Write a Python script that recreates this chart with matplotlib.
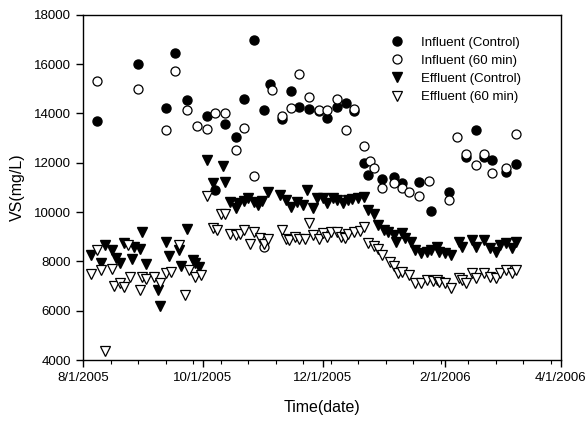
import datetime as dt
import matplotlib
matplotlib.use("Agg")
import matplotlib.pyplot as plt
import matplotlib.dates as mdates
from matplotlib.ticker import FixedLocator

plt.rcParams['font.family'] = ['Liberation Sans', 'DejaVu Sans']

start = dt.date(2005, 8, 1)

# sampling day (days after 8/1/2005) and VS (mg/L)
inf_ctrl_day = [7, 28, 42, 47, 53, 63, 67, 72, 78, 82, 87, 92, 95, 101, 106, 110, 115, 120,
                124, 129, 134, 138, 143, 145, 152, 158, 162, 171, 177, 186, 195, 200, 204,
                208, 215, 220]
inf_ctrl_vs = [13700, 16020, 14210, 16440, 14550, 13900, 10900, 13560, 13040, 14580, 16990,
               14120, 15190, 13770, 14900, 14250, 14180, 14100, 13810, 14250, 14420, 14080,
               11990, 11500, 11330, 11440, 11170, 11210, 10060, 10830, 12250, 13330, 12250,
               12110, 11640, 11950]

inf_60_day = [7, 28, 42, 47, 53, 58, 63, 67, 72, 78, 82, 87, 92, 96, 101, 106, 110, 115, 120,
              124, 129, 134, 138, 143, 146, 148, 152, 158, 162, 166, 171, 176, 186, 190, 195,
              200, 204, 208, 215, 220]
inf_60_vs = [15330, 14970, 13330, 15730, 14120, 13470, 13370, 14010, 14010, 12520, 13420,
             11470, 8600, 14930, 13910, 14210, 15590, 14680, 14140, 14120, 14590, 13330, 14170,
             12660, 12050, 11780, 10970, 11170, 10970, 10830, 10670, 11240, 10490, 13060,
             12350, 11910, 12350, 11570, 11780, 13160]

eff_ctrl_day = [4, 9, 11, 15, 17, 19, 21, 25, 26, 29, 30, 32, 38, 39, 42, 44, 49, 50, 53, 56,
                57, 59, 63, 66, 71, 72, 75, 78, 79, 82, 84, 87, 89, 91, 94, 100, 103, 106, 109,
                112, 114, 117, 119, 122, 124, 127, 129, 132, 135, 137, 140, 143, 145, 148, 150,
                153, 155, 158, 159, 162, 164, 167, 169, 172, 175, 177, 180, 181, 184, 187, 191,
                193, 198, 200, 204, 207, 210, 212, 215, 218, 220]
eff_ctrl_vs = [8260, 7920, 8670, 8460, 8130, 7920, 8760, 8080, 8600, 8490, 9210, 7890, 6850,
               6170, 8800, 8220, 8460, 7810, 9300, 8060, 7950, 7760, 12090, 11170, 11870, 11200,
               10420, 10150, 10360, 10460, 10560, 10420, 10290, 10460, 10830, 10690, 10490,
               10220, 10420, 10290, 10900, 10150, 10560, 10560, 10360, 10560, 10490, 10380,
               10490, 10520, 10560, 10620, 10090, 9920, 9480, 9270, 9210, 9070, 8800, 9140, 8940,
               8800, 8460, 8350, 8390, 8480, 8600, 8390, 8350, 8260, 8800, 8600, 8870, 8600,
               8870, 8530, 8390, 8670, 8730, 8530, 8800]

eff_60_day = [4, 7, 9, 11, 15, 16, 19, 21, 23, 24, 29, 30, 32, 36, 39, 42, 45, 49, 52, 54, 57,
              60, 63, 66, 68, 70, 72, 75, 78, 80, 82, 85, 87, 90, 92, 94, 101, 103, 105, 108,
              110, 113, 115, 117, 120, 122, 124, 126, 129, 131, 133, 135, 138, 141, 143, 145,
              148, 150, 152, 156, 158, 160, 162, 166, 169, 172, 175, 178, 180, 181, 184, 187,
              191, 193, 195, 198, 200, 204, 207, 210, 212, 215, 218, 220]
eff_60_vs = [7500, 8460, 7650, 4380, 7700, 7000, 7140, 6970, 8670, 7350, 6840, 7380, 7270,
             7380, 7140, 7520, 7580, 8670, 6640, 7650, 7380, 7450, 10650, 9340, 9270, 9920,
             9920, 9110, 9070, 9110, 9270, 8710, 9210, 8940, 8710, 8900, 9270, 8900, 8870,
             9000, 8900, 8900, 9550, 9070, 8900, 9170, 9000, 9210, 9210, 9000, 8940, 9110,
             9210, 9250, 9410, 8730, 8630, 8490, 8260, 7990, 7800, 7520, 7580, 7450, 7110,
             7110, 7240, 7200, 7240, 7170, 7110, 6910, 7310, 7240, 7110, 7520, 7310, 7520,
             7380, 7310, 7520, 7650, 7520, 7650]

major_dates = [dt.date(2005, 8, 1), dt.date(2005, 10, 1), dt.date(2005, 12, 1),
               dt.date(2006, 2, 1), dt.date(2006, 4, 1)]
y_ticks = [4000, 6000, 8000, 10000, 12000, 14000, 16000, 18000]


def to_dates(days):
    return [start + dt.timedelta(days=d) for d in days]


fig = plt.figure(figsize=(5.86, 4.29), dpi=100)
ax = fig.add_axes([0.1416, 0.1608, 0.8154, 0.8049])

ax.plot(to_dates(inf_ctrl_day), inf_ctrl_vs, 'o', color='black', ms=6.5,
        label='Influent (Control)')
ax.plot(to_dates(inf_60_day), inf_60_vs, 'o', mfc='white', mec='black', mew=0.9, ms=6.5,
        label='Influent (60 min)')
ax.plot(to_dates(eff_ctrl_day), eff_ctrl_vs, 'v', color='black', ms=7,
        label='Effluent (Control)')
ax.plot(to_dates(eff_60_day), eff_60_vs, 'v', mfc='white', mec='black', mew=0.9, ms=7,
        label='Effluent (60 min)')

ax.set_xlim(major_dates[0], major_dates[-1])
ax.set_ylim(4000, 18000)
ax.set_yticks(y_ticks)
ax.set_xticks(major_dates)
ax.set_xticklabels([f"{d.month}/{d.day}/{d.year}" for d in major_dates])
minor = [mdates.date2num(start + dt.timedelta(days=d)) for d in range(0, 243, 14)]
ax.xaxis.set_minor_locator(FixedLocator(minor))

ax.tick_params(which='major', direction='out', length=5, width=1, labelsize=9.5)
ax.tick_params(which='minor', direction='out', length=3, width=0.8)
for s in ax.spines.values():
    s.set_linewidth(1)
    s.set_color('black')

ax.set_xlabel("Time(date)", fontsize=11.5, labelpad=12)
ax.set_ylabel("VS(mg/L)", fontsize=11.5, labelpad=7)

ax.legend(loc='upper left', bbox_to_anchor=(0.643, 0.937), frameon=False, fontsize=9.5,
          numpoints=1, handlelength=1, handletextpad=1.3, labelspacing=0.45,
          borderpad=0, borderaxespad=0)

fig.savefig("out.png", dpi=100)
